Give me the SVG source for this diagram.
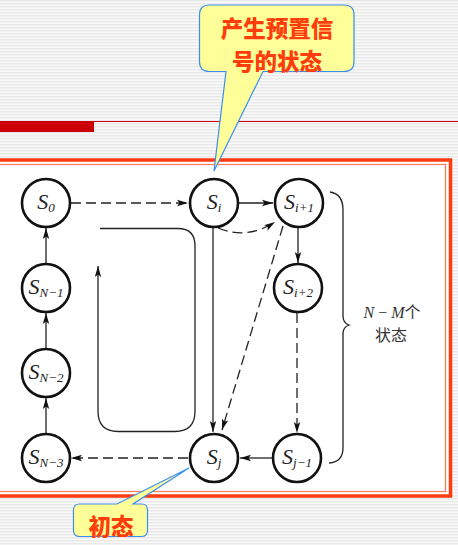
<svg xmlns="http://www.w3.org/2000/svg" width="458" height="545" viewBox="0 0 458 545">
<defs>
<pattern id="stripes" width="4" height="3" patternUnits="userSpaceOnUse">
<rect width="4" height="3" fill="#f9f9f9"/>
<rect width="4" height="1.4" fill="#e9e9e9"/>
</pattern>
<marker id="arr" markerUnits="userSpaceOnUse" markerWidth="12" markerHeight="8" refX="11" refY="4" orient="auto">
<path d="M0,0.8 L11,4 L0,7.2 L2.5,4 Z" fill="#111"/>
</marker>
</defs>
<style>
.node circle{fill:#fff;stroke:#111;stroke-width:2.6}
.lbl{font-family:"Liberation Serif","DejaVu Serif",serif;font-style:italic;font-size:22px;fill:#222;text-anchor:middle}
.sub{font-size:13px;font-style:italic}
.ln{fill:none;stroke:#222;stroke-width:1.3}
.dash{stroke-dasharray:10 5}
.callout{fill:#ffff99;stroke:#3a8ef0;stroke-width:1.2}
.ctxt{font-family:"Noto Sans CJK SC","Noto Sans",sans-serif;font-weight:900;font-size:22.5px;fill:#ff3d0d;text-anchor:middle}
.note{font-family:"Liberation Serif","Noto Sans CJK SC",serif;font-size:16px;fill:#333;text-anchor:middle}
</style>
<rect width="458" height="545" fill="url(#stripes)"/>
<line x1="0" y1="121.5" x2="458" y2="121.5" stroke="#cc0000" stroke-width="1"/>
<rect x="0" y="121" width="94" height="11" fill="#cc0000"/>
<rect x="-6" y="160" width="456.5" height="336" fill="#fff" stroke="#ff3b0f" stroke-width="3.5"/>
<rect x="-6" y="164.5" width="451.5" height="327" fill="none" stroke="#ff7a55" stroke-width="1.2"/>
<g id="connectors">
<line class="ln dash" x1="71" y1="203" x2="188" y2="203" marker-end="url(#arr)"/>
<line class="ln" x1="239" y1="203" x2="273" y2="203" marker-end="url(#arr)"/>
<path class="ln dash" d="M218,228 Q247,240 275,222" marker-end="url(#arr)"/>
<line class="ln" x1="298" y1="228" x2="298" y2="263" marker-end="url(#arr)"/>
<line class="ln dash" x1="297" y1="313" x2="297" y2="433" marker-end="url(#arr)"/>
<line class="ln" x1="272" y1="458" x2="240" y2="458" marker-end="url(#arr)"/>
<line class="ln dash" x1="188" y1="458" x2="71" y2="458" marker-end="url(#arr)"/>
<line class="ln" x1="46" y1="433" x2="46" y2="398" marker-end="url(#arr)"/>
<line class="ln" x1="46" y1="348" x2="46" y2="313" marker-end="url(#arr)"/>
<line class="ln" x1="46" y1="263" x2="46" y2="228" marker-end="url(#arr)"/>
<line class="ln" x1="213" y1="228" x2="213" y2="432" marker-end="url(#arr)"/>
<line class="ln dash" x1="283" y1="226" x2="222" y2="430" marker-end="url(#arr)"/>
<path class="ln" d="M100,228.5 H178 Q195,228.5 195,246 V411 Q195,431.5 175,431.5 H118 Q98,431.5 98,411 V266" marker-end="url(#arr)"/>
<path class="ln" d="M330,192 Q343,194 343,210 V316 Q343,323 349,325 Q343,327 343,334 V448 Q343,462 329,463"/>
</g>
<g id="S0" class="node"><circle cx="46" cy="203" r="24"/><text class="lbl" x="46" y="209">S<tspan class="sub" dy="3">0</tspan></text></g>
<g id="SN-1" class="node"><circle cx="46" cy="288" r="24"/><text class="lbl" x="46" y="294">S<tspan class="sub" dy="3">N−1</tspan></text></g>
<g id="SN-2" class="node"><circle cx="46" cy="373" r="24"/><text class="lbl" x="46" y="379">S<tspan class="sub" dy="3">N−2</tspan></text></g>
<g id="SN-3" class="node"><circle cx="46" cy="458" r="24"/><text class="lbl" x="46" y="464">S<tspan class="sub" dy="3">N−3</tspan></text></g>
<g id="Si" class="node"><circle cx="214" cy="203" r="24"/><text class="lbl" x="214" y="209">S<tspan class="sub" dy="3">i</tspan></text></g>
<g id="Si+1" class="node"><circle cx="299" cy="203" r="24"/><text class="lbl" x="299" y="209">S<tspan class="sub" dy="3">i+1</tspan></text></g>
<g id="Si+2" class="node"><circle cx="298" cy="288" r="24"/><text class="lbl" x="298" y="294">S<tspan class="sub" dy="3">i+2</tspan></text></g>
<g id="Sj" class="node"><circle cx="214" cy="458" r="24"/><text class="lbl" x="214" y="464">S<tspan class="sub" dy="3">j</tspan></text></g>
<g id="Sj-1" class="node"><circle cx="297" cy="458" r="24"/><text class="lbl" x="297" y="464">S<tspan class="sub" dy="3">j−1</tspan></text></g>
<g id="note">
<text class="note" x="392" y="318"><tspan font-style="italic">N</tspan> − <tspan font-style="italic">M</tspan><tspan font-family="Noto Sans CJK SC,sans-serif">个</tspan></text>
<text class="note" x="391" y="341" font-family="Noto Sans CJK SC,sans-serif">状态</text>
</g>
<g id="callout-preset">
<path class="callout" d="M209.5,5 H344 Q354,5 354,15 V61.5 Q354,71.5 344,71.5 H263 L214,171 L226,71.5 H209.5 Q199.5,71.5 199.5,61.5 V15 Q199.5,5 209.5,5 Z"/>
<text class="ctxt" x="277" y="37">产生预置信</text>
<text class="ctxt" x="277" y="70">号的状态</text>
</g>
<g id="callout-initial">
<path class="callout" d="M79.5,504 H117 L189,468 L133,504 H141.5 Q147.5,504 147.5,510 V530.5 Q147.5,536.5 141.5,536.5 H79.5 Q73.5,536.5 73.5,530.5 V510 Q73.5,504 79.5,504 Z"/>
<text class="ctxt" x="111" y="535" font-size="24">初态</text>
</g>
</svg>
